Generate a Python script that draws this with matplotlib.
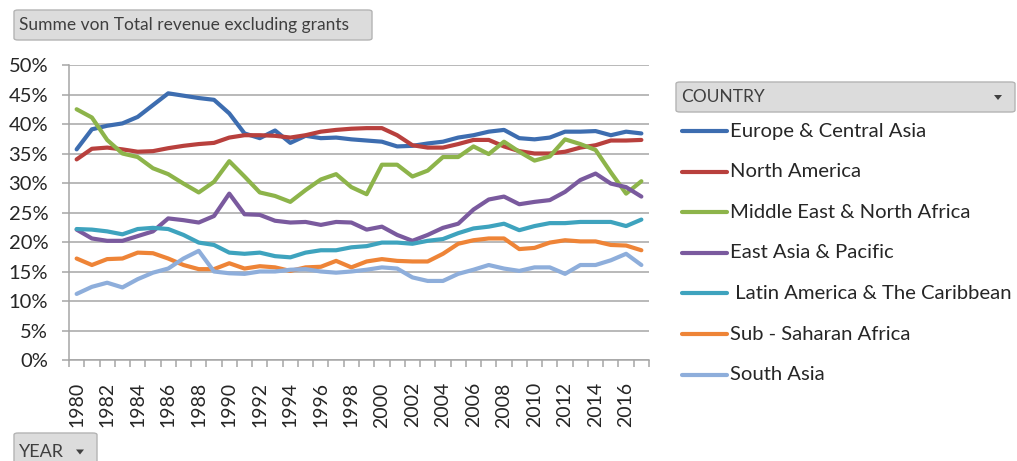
import matplotlib
matplotlib.use("Agg")
import matplotlib.pyplot as plt
from matplotlib.patches import FancyBboxPatch, Polygon
from matplotlib.lines import Line2D
from matplotlib.ticker import PercentFormatter, FixedLocator

plt.rcParams['font.family'] = ['Lato', 'DejaVu Sans']

years = list(range(1980, 2018))

europe_central_asia = [35.7, 39.1, 39.7, 40.1, 41.2, 43.2, 45.2, 44.8, 44.4, 44.1,
                       41.8, 38.4, 37.6, 38.9, 36.8, 38.0, 37.6, 37.7, 37.4, 37.2,
                       37.0, 36.2, 36.3, 36.7, 37.0, 37.7, 38.1, 38.7, 39.0, 37.6,
                       37.4, 37.7, 38.7, 38.7, 38.8, 38.1, 38.7, 38.4]
north_america = [34.0, 35.8, 36.0, 35.7, 35.3, 35.4, 35.9, 36.3, 36.6, 36.8,
                 37.7, 38.1, 38.1, 38.0, 37.7, 38.1, 38.7, 39.0, 39.2, 39.3,
                 39.3, 38.1, 36.4, 36.0, 36.0, 36.6, 37.3, 37.3, 36.2, 35.4,
                 35.0, 35.0, 35.3, 36.0, 36.4, 37.2, 37.2, 37.3]
middle_east_north_africa = [42.5, 41.1, 37.3, 35.0, 34.4, 32.5, 31.5, 29.9, 28.4, 30.2,
                            33.7, 31.1, 28.4, 27.8, 26.8, 28.8, 30.6, 31.5, 29.3, 28.1,
                            33.1, 33.1, 31.1, 32.1, 34.4, 34.4, 36.2, 34.9, 37.0, 35.3,
                            33.8, 34.5, 37.4, 36.6, 35.6, 31.8, 28.2, 30.3]
east_asia_pacific = [22.1, 20.6, 20.2, 20.2, 21.0, 21.8, 24.0, 23.7, 23.3, 24.4,
                     28.2, 24.7, 24.6, 23.6, 23.3, 23.4, 22.9, 23.4, 23.3, 22.1,
                     22.6, 21.2, 20.2, 21.2, 22.4, 23.1, 25.5, 27.2, 27.7, 26.4,
                     26.8, 27.1, 28.5, 30.5, 31.6, 29.9, 29.3, 27.7]
latin_america_caribbean = [22.2, 22.1, 21.8, 21.3, 22.2, 22.4, 22.2, 21.2, 19.9, 19.5,
                           18.2, 18.0, 18.2, 17.6, 17.4, 18.2, 18.6, 18.6, 19.1, 19.3,
                           19.9, 19.9, 19.7, 20.2, 20.5, 21.5, 22.3, 22.6, 23.1, 22.0,
                           22.7, 23.2, 23.2, 23.4, 23.4, 23.4, 22.7, 23.8]
sub_saharan_africa = [17.2, 16.1, 17.1, 17.2, 18.2, 18.1, 17.2, 16.1, 15.4, 15.4,
                      16.4, 15.5, 15.9, 15.7, 15.1, 15.7, 15.8, 16.8, 15.7, 16.7,
                      17.1, 16.8, 16.7, 16.7, 18.0, 19.7, 20.3, 20.6, 20.6, 18.8,
                      19.0, 19.9, 20.3, 20.1, 20.1, 19.5, 19.4, 18.6]
south_asia = [11.2, 12.4, 13.1, 12.3, 13.7, 14.8, 15.5, 17.2, 18.5, 15.0,
              14.7, 14.6, 15.0, 15.0, 15.3, 15.4, 15.0, 14.8, 15.0, 15.3,
              15.7, 15.5, 14.0, 13.4, 13.4, 14.6, 15.3, 16.1, 15.5, 15.1,
              15.7, 15.7, 14.6, 16.1, 16.1, 16.9, 18.0, 16.1]

series_names = ["Europe & Central Asia", "North America", "Middle East & North Africa",
                "East Asia & Pacific", " Latin America & The Caribbean",
                "Sub - Saharan Africa", "South Asia"]
series_values = [europe_central_asia, north_america, middle_east_north_africa,
                 east_asia_pacific, latin_america_caribbean, sub_saharan_africa, south_asia]
colors = ["#3D6DB0", "#B8403D", "#8DB44A", "#7A5A9E", "#3EA3BE", "#EE8437", "#8EAEDB"]

W, H = 1017, 461
fig = plt.figure(figsize=(W / 100, H / 100), dpi=100)
ax = fig.add_axes([69 / W, 1 - 360 / H, (649 - 69) / W, (360 - 65) / H])

x = list(range(len(years)))
for vals, c, name in zip(series_values, colors, series_names):
    ax.plot(x, vals, color=c, lw=3.0, solid_capstyle='round', solid_joinstyle='round', label=name)

ax.set_xlim(-0.5, len(years) - 0.5)
ax.set_ylim(0, 50)
ax.set_yticks(range(0, 51, 5))
ax.yaxis.set_major_formatter(PercentFormatter(decimals=0))
ax.grid(axis='y', color='#A6A6A6', lw=1.1)
ax.set_axisbelow(True)
for s in ['top', 'right']:
    ax.spines[s].set_visible(False)
for s in ['left', 'bottom']:
    ax.spines[s].set_color('#A6A6A6')
    ax.spines[s].set_linewidth(1.1)

ax.tick_params(axis='y', length=5, color='#A6A6A6', width=1.1, labelsize=14.5,
               labelcolor='#262626', pad=10)
ax.set_xticks(x[::2])
ax.set_xticklabels([str(y) for y in years[::2]], rotation=90, fontsize=14, color='#262626')
ax.tick_params(axis='x', which='major', length=0, pad=16)
ax.xaxis.set_minor_locator(FixedLocator([i - 0.5 for i in range(len(years) + 1)]))
ax.tick_params(axis='x', which='minor', length=5, color='#A6A6A6', width=1.1)


def button(x0, y0, x1, y1, text, fontsize, arrow=False):
    p = FancyBboxPatch((x0 / W, 1 - y1 / H), (x1 - x0) / W, (y1 - y0) / H,
                       boxstyle="round,pad=0,rounding_size=0.004",
                       transform=fig.transFigure, facecolor='#DCDCDC',
                       edgecolor='#B4B4B4', lw=1.0)
    fig.patches.append(p)
    fig.text((x0 + 5) / W, 1 - ((y0 + y1) / 2) / H, text, fontsize=fontsize,
             color='#3F3F3F', va='center', ha='left')
    if arrow:
        ax_ = x1 - 17
        ay = (y0 + y1) / 2
        tri = Polygon([((ax_ - 4) / W, 1 - (ay - 2) / H), ((ax_ + 4) / W, 1 - (ay - 2) / H),
                       (ax_ / W, 1 - (ay + 3) / H)], closed=True,
                      transform=fig.transFigure, facecolor='#404040', edgecolor='none')
        fig.patches.append(tri)


button(14, 10, 372, 40, "Summe von Total revenue excluding grants", 12.5)
button(676, 82, 1015, 112, "COUNTRY", 12.5, arrow=True)
button(14, 433, 97, 470, "YEAR", 13, arrow=True)

leg_y0 = 131
leg_dy = 40.6
for i, (name, c) in enumerate(zip(series_names, colors)):
    yy = 1 - (leg_y0 + i * leg_dy) / H
    fig.lines.append(Line2D([682 / W, 727 / W], [yy, yy], transform=fig.transFigure,
                            color=c, lw=3.0, solid_capstyle='round'))
    fig.text(730 / W, yy, name, fontsize=14.6, color='#262626', va='center', ha='left')

fig.savefig("out.png", dpi=100)
